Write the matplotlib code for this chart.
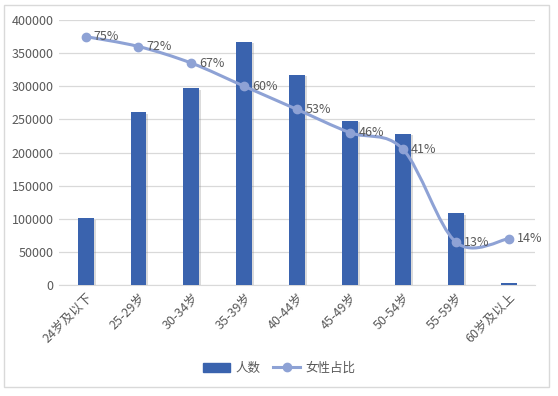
import numpy as np
import matplotlib.pyplot as plt
from matplotlib.path import Path
from matplotlib.patches import PathPatch, Rectangle
from matplotlib import patheffects as pe
from matplotlib.lines import Line2D

plt.rcParams['font.family'] = ['Noto Sans CJK SC', 'DejaVu Sans']

# data
age_groups = ['24岁及以下', '25-29岁', '30-34岁', '35-39岁', '40-44岁',
              '45-49岁', '50-54岁', '55-59岁', '60岁及以上']
people = [101000, 261000, 297000, 367000, 317000, 247500, 228000, 108500, 3000]
female_share = [0.75, 0.72, 0.67, 0.60, 0.53, 0.46, 0.41, 0.13, 0.14]
share_labels = ['75%', '72%', '67%', '60%', '53%', '46%', '41%', '13%', '14%']
y_ticks = [0, 50000, 100000, 150000, 200000, 250000, 300000, 350000, 400000]

bar_color = '#3A63AE'
line_color = '#8EA2D5'
text_color = '#595959'


def smooth_path(xs, ys):
    '''excel style smoothed line: catmull-rom turned into bezier segments'''
    pts = np.column_stack([xs, ys])
    verts = [pts[0]]
    codes = [Path.MOVETO]
    n = len(pts)
    for i in range(n - 1):
        p0 = pts[i - 1] if i > 0 else pts[i]
        p1, p2 = pts[i], pts[i + 1]
        p3 = pts[i + 2] if i + 2 < n else pts[i + 1]
        c1 = p1 + (p2 - p0) / 6.0
        c2 = p2 - (p3 - p1) / 6.0
        verts += [c1, c2, p2]
        codes += [Path.CURVE4] * 3
    return Path(verts, codes)


fig = plt.figure(figsize=(5.58, 3.96), dpi=100)
ax = fig.add_axes([0.106, 0.280, 0.853, 0.6695])

x = np.arange(len(age_groups))
bars = ax.bar(x, people, width=0.3, color=bar_color, zorder=3)
for b in bars:
    b.set_path_effects([pe.SimplePatchShadow(offset=(1.5, -1), shadow_rgbFace='#8a8a8a', alpha=0.3),
                        pe.Normal()])

ax.set_ylim(0, 400000)
ax.set_xlim(-0.5, len(age_groups) - 0.5)
ax.set_yticks(y_ticks)
ax.set_yticklabels([str(v) for v in y_ticks])
ax.yaxis.grid(True, color='#D9D9D9', linewidth=0.9, zorder=0)
ax.set_axisbelow(True)
for s in ['top', 'right', 'left']:
    ax.spines[s].set_visible(False)
ax.spines['bottom'].set_color('#D9D9D9')
ax.tick_params(axis='both', length=0, labelsize=9, colors=text_color, pad=4)
ax.set_xticks(x)
ax.set_xticklabels(age_groups, rotation=45, ha='right', va='top', rotation_mode='anchor')

# female share on a hidden secondary axis
ax2 = ax.twinx()
ax2.set_ylim(0, 0.8)
ax2.axis('off')
path = smooth_path(x.astype(float), np.array(female_share))
ax2.add_patch(PathPatch(path, facecolor='none', edgecolor=line_color, linewidth=2.2, zorder=4))
ax2.plot(x, female_share, 'o', color=line_color, markersize=6, zorder=5)
for xi, yi, lab in zip(x, female_share, share_labels):
    ax2.annotate(lab, (xi, yi), xytext=(6, 0), textcoords='offset points',
                 ha='left', va='center', fontsize=9, color=text_color, zorder=6)

handles = [Rectangle((0, 0), 1, 1, color=bar_color),
           Line2D([0], [0], color=line_color, lw=2.2, marker='o', markersize=6)]
fig.legend(handles, ['人数', '女性占比'], loc='center', bbox_to_anchor=(0.5, 0.07),
           ncol=2, frameon=False, fontsize=9, labelcolor=text_color,
           handlelength=2.2, handletextpad=0.4, columnspacing=1.0)

# outer border of the chart
fig.patches.append(Rectangle((0.008, 0.022), 0.976, 0.965, transform=fig.transFigure,
                             fill=False, edgecolor='#D9D9D9', linewidth=1))

fig.savefig('out.png', dpi=100)
